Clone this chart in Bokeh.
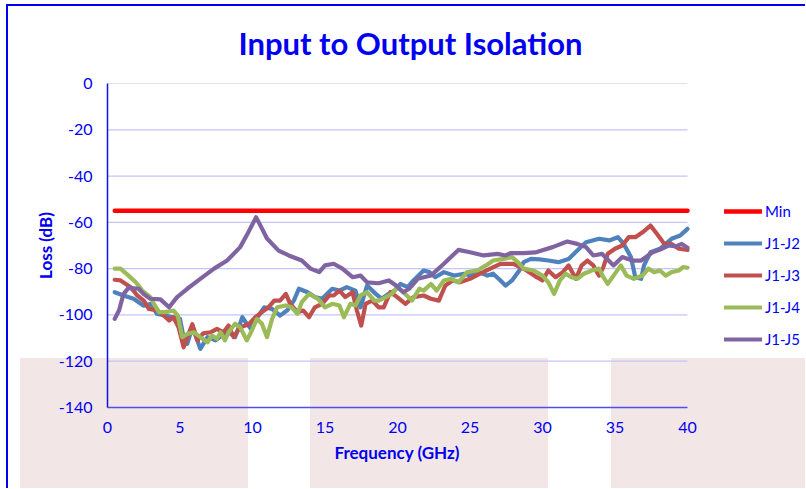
from bokeh.plotting import figure
from bokeh.models import Range1d, SingleIntervalTicker, Legend, LegendItem, Title, PrintfTickFormatter
from bokeh.embed import file_html
from bokeh.resources import INLINE

# ---------------- data ----------------
min_freq = [0.5, 40.0]
min_loss = [-55, -55]

j2_freq = [0.5, 1.1, 1.8, 2.5, 3.0, 3.4, 4.0, 4.5, 5.0, 5.2, 5.5, 5.85, 6.2, 6.4, 6.9, 7.45, 7.9, 8.35, 8.8, 9.3,
           9.6, 9.9, 10.2, 10.8, 11.35, 11.9, 12.4, 12.85, 13.2, 13.8, 14.3, 14.8, 15.5, 16.0, 16.5, 17.1, 17.45,
           17.9, 18.5, 18.9, 19.4, 19.8, 20.2, 20.7, 21.1, 21.8, 22.2, 22.6, 23.2, 23.9, 24.6, 25.0, 25.6, 26.2,
           26.6, 27.1, 27.45, 27.9, 28.4, 28.7, 29.2, 29.8, 30.4, 31.1, 31.8, 32.4, 33.0, 33.9, 34.6, 35.2, 35.6,
           36.1, 36.4, 36.8, 37.0, 37.45, 38.1, 38.9, 39.5, 40.0]
j2_loss = [-90.2, -91.6, -93.0, -96.0, -95.2, -99.5, -100.3, -101.0, -101.7, -108.2, -112.5, -105.3, -111.0, -114.7,
           -109.6, -111.0, -108.9, -107.5, -109.6, -101.0, -103.8, -106.0, -102.4, -96.7, -97.4, -100.3, -98.0, -93.8,
           -88.7, -90.2, -92.3, -93.0, -88.7, -89.5, -88.0, -89.5, -96.7, -87.3, -90.9, -93.0, -90.9, -89.5, -86.6,
           -88.0, -85.1, -80.8, -81.5, -83.7, -81.5, -83.0, -82.2, -83.0, -81.5, -83.0, -82.2, -85.1, -87.3, -85.1,
           -80.8, -77.2, -75.8, -76.0, -76.5, -77.2, -75.8, -72.2, -68.6, -67.1, -67.8, -66.4, -69.3, -75.0, -83.7,
           -84.4, -78.6, -72.9, -71.4, -67.1, -65.7, -62.8]

j3_freq = [0.5, 0.9, 1.6, 2.05, 2.5, 2.85, 3.45, 3.9, 4.25, 4.55, 4.9, 5.25, 5.6, 5.85, 6.2, 6.6, 7.1, 7.55, 8.0, 8.35,
           8.7, 9.15, 9.75, 10.2, 10.65, 11.1, 11.5, 11.9, 12.3, 12.6, 13.1, 13.5, 13.9, 14.3, 14.8, 15.3, 15.6, 16.0,
           16.4, 16.9, 17.2, 17.5, 17.8, 18.25, 18.7, 19.05, 19.5, 19.98, 20.55, 21.1, 21.8, 22.3, 22.85, 23.3, 23.8,
           24.3, 25.0, 25.7, 26.4, 27.1, 28.0, 28.9, 29.6, 30.0, 30.4, 30.9, 31.4, 31.8, 32.3, 32.7, 33.1, 33.5, 33.9,
           34.2, 34.5, 35.0, 35.5, 35.95, 36.4, 36.9, 37.45, 37.9, 38.4, 38.9, 39.4, 40.0]
j3_loss = [-84.8, -85.1, -88.0, -91.6, -93.8, -97.4, -98.1, -100.3, -102.4, -101.0, -105.3, -114.0, -108.0, -104.0,
           -111.0, -108.0, -107.5, -106.0, -107.5, -104.6, -109.6, -105.3, -104.0, -101.0, -98.8, -96.7, -93.8, -93.8,
           -90.9, -95.2, -98.8, -98.1, -101.0, -96.7, -95.2, -91.6, -91.6, -89.5, -92.3, -90.2, -98.1, -104.6, -95.2,
           -93.8, -96.7, -96.7, -90.2, -92.3, -95.2, -92.3, -91.6, -93.0, -93.8, -87.3, -85.1, -85.9, -84.4, -82.2,
           -80.0, -77.9, -77.9, -80.8, -83.7, -85.1, -80.8, -83.7, -81.5, -78.6, -84.4, -78.6, -76.5, -78.6, -83.0,
           -79.3, -73.6, -71.4, -70.0, -66.4, -66.4, -64.3, -61.4, -65.0, -69.3, -69.3, -71.4, -71.9]

j4_freq = [0.5, 0.9, 1.45, 1.95, 2.4, 2.95, 3.2, 3.55, 4.0, 4.55, 4.85, 5.15, 5.5, 5.95, 6.4, 6.9, 7.2, 7.55, 7.8, 8.1,
           8.35, 8.8, 9.15, 9.6, 9.9, 10.3, 10.65, 11.0, 11.35, 11.7, 12.3, 12.7, 13.1, 13.4, 13.9, 14.5, 15.0, 15.5,
           16.0, 16.3, 16.75, 17.1, 17.45, 17.9, 18.4, 18.7, 19.2, 19.6, 20.0, 20.4, 21.0, 21.5, 21.8, 22.3, 22.7,
           23.2, 23.7, 24.2, 24.8, 25.5, 26.1, 26.6, 27.3, 27.9, 28.3, 28.7, 29.4, 30.0, 30.4, 30.8, 31.2, 31.6, 32.0,
           32.4, 32.85, 33.4, 33.9, 34.2, 34.5, 34.9, 35.4, 35.8, 36.3, 36.9, 37.3, 37.7, 38.1, 38.5, 38.9, 39.4,
           39.7, 40.0]
j4_loss = [-80.0, -80.0, -83.0, -85.9, -89.5, -92.3, -95.2, -98.8, -98.8, -98.1, -100.3, -109.6, -108.2, -107.5,
           -109.6, -111.8, -108.9, -110.3, -107.5, -111.0, -107.5, -103.8, -105.3, -111.0, -107.5, -101.7, -103.8,
           -109.6, -101.7, -96.7, -95.9, -96.7, -99.5, -94.5, -90.9, -93.0, -96.7, -95.2, -95.9, -101.0, -95.2, -95.9,
           -91.6, -90.2, -93.8, -93.8, -92.3, -90.9, -88.0, -90.2, -93.8, -88.7, -89.5, -86.6, -89.5, -85.1, -84.4,
           -85.9, -81.5, -80.8, -78.6, -76.5, -75.8, -75.0, -77.2, -80.0, -80.8, -83.0, -85.9, -90.9, -85.1, -82.2,
           -83.7, -84.4, -82.2, -80.8, -80.0, -83.7, -86.6, -83.0, -78.6, -83.0, -84.4, -83.0, -80.0, -81.5, -80.8,
           -83.0, -81.5, -80.8, -79.3, -79.6]

j5_freq = [0.5, 0.8, 1.1, 1.45, 2.15, 2.5, 2.95, 3.65, 4.25, 4.8, 5.5, 6.4, 7.35, 8.25, 9.15, 9.65, 10.25, 10.55,
           11.0, 11.8, 12.5, 13.4, 14.0, 14.6, 15.0, 15.6, 16.2, 16.9, 17.45, 17.9, 18.7, 19.4, 19.9, 20.4, 20.8,
           21.4, 22.3, 23.2, 24.2, 25.0, 25.95, 26.9, 27.45, 27.8, 28.7, 29.5, 30.0, 30.7, 31.7, 32.4, 33.0, 33.5,
           34.1, 34.9, 35.5, 36.2, 36.8, 37.6, 38.25, 38.7, 39.2, 39.6, 40.0]
j5_loss = [-101.7, -98.0, -91.0, -88.3, -88.7, -91.0, -93.0, -93.3, -96.7, -92.3, -88.7, -84.4, -80.0, -76.5, -70.7,
           -65.0, -57.8, -61.4, -67.0, -72.2, -74.3, -76.5, -80.0, -81.5, -78.6, -77.9, -80.0, -83.7, -83.0, -85.9,
           -86.3, -85.1, -87.3, -90.2, -88.7, -84.4, -83.0, -77.9, -71.9, -72.9, -74.3, -73.6, -74.3, -73.3, -73.3,
           -73.0, -72.0, -70.7, -68.3, -69.3, -70.7, -74.3, -73.6, -78.6, -75.0, -76.5, -76.5, -72.9, -71.4, -70.0,
           -70.4, -69.3, -71.0]

series_names = ["Min", "J1-J2", "J1-J3", "J1-J4", "J1-J5"]
series_colors = ["#FF0000", "#4F81BD", "#C0504D", "#9BBB59", "#8064A2"]
x_min, x_max = 0, 40
y_min, y_max = -140, 0
x_ticks_interval = 5
y_grid_values = [-120, -100, -80, -60, -40, -20, 0]

# ---------------- figure ----------------
BLUE = "#0000F0"
pink = "#F2E6E6"

FRAME_LEFT, FRAME_W = 107, 580     # pixels for x_min..x_max
FIG_W, FIG_H = 805, 488
x_pad = (FIG_W - FRAME_LEFT - FRAME_W) * (x_max - x_min) / FRAME_W   # room for the legend inside the frame

p = figure(width=FIG_W, height=FIG_H, output_backend="svg", toolbar_location=None,
           x_range=Range1d(x_min, x_max + x_pad), y_range=Range1d(y_min, y_max),
           min_border_left=FRAME_LEFT, min_border_right=0, min_border_top=83, min_border_bottom=81,
           title="Input to Output Isolation")
p.styles = {
    "background-image": ", ".join([f"linear-gradient({BLUE},{BLUE})"] * 2 + [f"linear-gradient({pink},{pink})"] * 3),
    "background-size": "800px 2px, 2px 485px, 228px 131px, 238px 131px, 195px 131px",
    "background-position": "6px 4px, 6px 4px, 20px 358px, 310px 358px, 611px 358px",
    "background-repeat": "no-repeat",
}
p.background_fill_alpha = 0
p.border_fill_alpha = 0
p.outline_line_color = None

p.title.text_font = "Lato"
p.title.text_font_size = "31px"
p.title.text_font_style = "bold"
p.title.text_color = BLUE
p.title.align = "left"
p.title.offset = 131
p.title.standoff = 43

# horizontal grid lines spanning only the data range
p.segment(x0=[x_min] * len(y_grid_values), x1=[x_max] * len(y_grid_values),
          y0=y_grid_values, y1=y_grid_values, line_color="#C4C4F8", line_width=1.2)

sources = [(min_freq, min_loss), (j2_freq, j2_loss), (j3_freq, j3_loss), (j4_freq, j4_loss), (j5_freq, j5_loss)]
items = []
for (fx, fy), name, col in zip(sources, series_names, series_colors):
    r = p.line(fx, fy, line_color=col, line_width=4.2 if name != "Min" else 4.5,
               line_join="round", line_cap="round")
    items.append(LegendItem(label=name, renderers=[r]))

legend = Legend(items=items, location=(617, 58), orientation="vertical",
                glyph_width=38, glyph_height=20, spacing=12, padding=0, margin=0,
                label_standoff=3, label_text_font="Lato", label_text_font_size="15px",
                label_text_color=BLUE, border_line_color=None, background_fill_alpha=0)
p.add_layout(legend)

p.xaxis.ticker = SingleIntervalTicker(interval=x_ticks_interval)
p.yaxis.ticker = SingleIntervalTicker(interval=20)
p.yaxis.formatter = PrintfTickFormatter(format="%d")
p.xaxis.bounds = (x_min, x_max)
for ax in (p.xaxis[0], p.yaxis[0]):
    ax.major_tick_line_color = None
    ax.minor_tick_line_color = None
    ax.major_tick_out = 0
    ax.major_tick_in = 0
    ax.minor_tick_out = 0
    ax.minor_tick_in = 0
    ax.major_label_text_font = "Lato"
    ax.major_label_text_font_size = "16px"
    ax.major_label_text_color = BLUE
    ax.axis_label_text_font = "Lato"
    ax.axis_label_text_font_size = "17px"
    ax.axis_label_text_font_style = "bold"
    ax.axis_label_text_color = BLUE
p.yaxis.axis_line_color = "#1010E8"
p.yaxis.axis_line_width = 1.5
p.xaxis.axis_line_color = "#5050E8"
p.xaxis.axis_line_width = 1.5
p.yaxis.major_label_standoff = 15
p.xaxis.major_label_standoff = 14
p.yaxis.axis_label = "Loss (dB)"
p.yaxis.axis_label_standoff = 0

# x-axis title, placed under the 0..40 span (not under the legend room)
xlabel = Title(text="Frequency (GHz)", align="left", offset=227, standoff=8,
               text_font="Lato", text_font_size="17px", text_font_style="bold", text_color=BLUE)
p.add_layout(xlabel, "below")

p.xgrid.grid_line_color = None
p.ygrid.grid_line_color = None

open("out.html", "w").write(file_html(p, INLINE))
